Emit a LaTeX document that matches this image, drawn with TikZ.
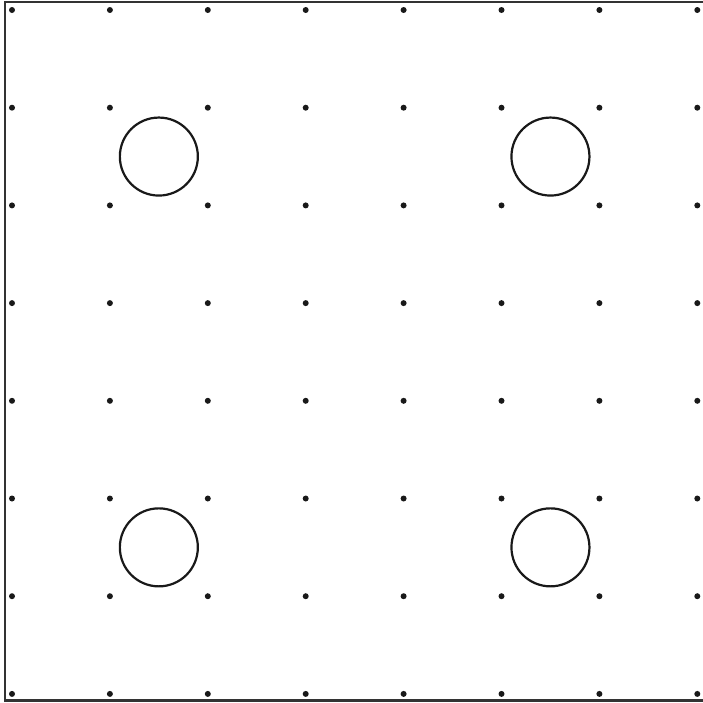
\documentclass[tikz,border=0pt]{standalone}
\usetikzlibrary{calc}
\begin{document}
\begin{tikzpicture}[x=1pt,y=-1pt,
  gdot/.style={circle,fill=black!90,inner sep=0pt,minimum size=6pt},
  hole/.style={circle,draw=black!90,line width=2.2pt,inner sep=0pt,minimum size=78pt},
  frame/.style={draw=black!80,line width=2.2pt}]
\useasboundingbox (0,0) rectangle (703,702);
\foreach \i in {0,...,7}{
  \foreach \j in {0,...,7}{
    \node[gdot] (d\i\j) at ({12+97.9*\i},{10+97.7*\j}) {};
  }
}
\coordinate (tl) at (5,2);
\coordinate (tr) at (703,2);
\coordinate (bl) at (5,700.5);
\coordinate (br) at (703,700.5);
\draw[frame] (tr) -- (tl) -- (bl) -- (br);
\node[hole] (c1) at ($(d11)!0.5!(d22)$) {};
\node[hole] (c2) at ($(d51)!0.5!(d62)$) {};
\node[hole] (c3) at ($(d15)!0.5!(d26)$) {};
\node[hole] (c4) at ($(d55)!0.5!(d66)$) {};
\end{tikzpicture}
\end{document}
